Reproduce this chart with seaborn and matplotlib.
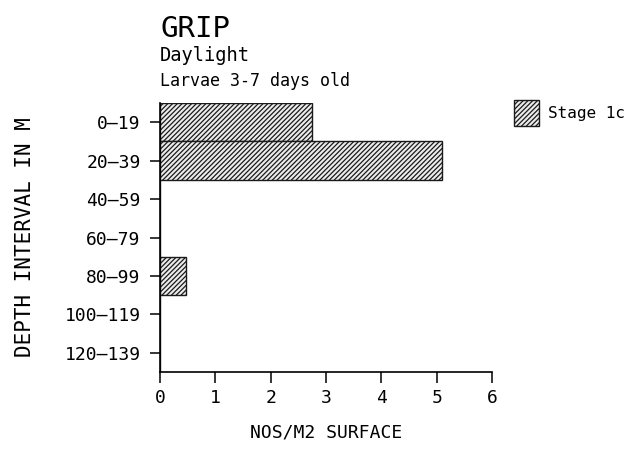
import matplotlib
matplotlib.use("Agg")
import matplotlib.pyplot as plt
from matplotlib.patches import Patch
import seaborn as sns
import pandas as pd

# Depth bins and larval densities (nos per m2 of surface)
depth_bins = ["0-19", "20-39", "40-59", "60-79", "80-99", "100-119", "120-139"]
stage_1c = [2.75, 5.10, 0.0, 0.0, 0.47, 0.0, 0.0]
x_ticks = [0, 1, 2, 3, 4, 5, 6]

title_main = "GRIP"
title_sub = "Daylight"
title_note = "Larvae 3-7 days old"
series_label = "Stage 1c"

df = pd.DataFrame({"depth": depth_bins, "density": stage_1c})

sns.set_style("white")
plt.rcParams["font.family"] = ["DejaVu Sans Mono", "DejaVu Sans"]
plt.rcParams["hatch.linewidth"] = 0.9
for key in ("text.color", "axes.labelcolor", "xtick.color", "ytick.color"):
    plt.rcParams[key] = "black"

fig = plt.figure(figsize=(6.33, 4.5), dpi=100)
ax = fig.add_axes([0.2528, 0.1733, 0.5245, 0.5978])

bar_style = dict(facecolor="#ececec", edgecolor="#1a1a1a", hatch="///////", linewidth=1.0)

sns.barplot(data=df, x="density", y="depth", orient="h", order=depth_bins,
            width=1.0, ax=ax, **bar_style)

ax.set_xlim(0, 6)
ax.set_ylim(6.5, -0.5)
ax.set_xticks(x_ticks)
ax.set_xticklabels([str(t) for t in x_ticks], fontsize=13)
ax.set_yticks(range(len(depth_bins)))
ax.set_yticklabels([d.replace("-", "\u2013") for d in depth_bins], fontsize=13)

ax.set_xlabel("NOS/M2 SURFACE", fontsize=13, labelpad=12)
ax.set_ylabel("DEPTH INTERVAL IN M", fontsize=15, labelpad=21)

for side in ("top", "right"):
    ax.spines[side].set_visible(False)
for side in ("left", "bottom"):
    ax.spines[side].set_color("black")
    ax.spines[side].set_linewidth(1.2)

ax.tick_params(axis="x", direction="out", length=8, width=1.1, pad=4, bottom=True)
ax.tick_params(axis="y", direction="out", length=7, width=1.1, pad=7, left=True)

# Title block, left-aligned with the plotting area
x0 = 0.2528
fig.text(x0, 1 - 37 / 450, title_main, fontsize=21, va="baseline", ha="left")
fig.text(x0, 1 - 61 / 450, title_sub, fontsize=13.5, va="baseline", ha="left")
fig.text(x0, 1 - 86 / 450, title_note, fontsize=12, va="baseline", ha="left")

handle = Patch(label=series_label, **bar_style)
fig.legend(handles=[handle], loc="upper left", bbox_to_anchor=(514 / 633, 1 - 100 / 450),
           frameon=False, fontsize=11.5, handlelength=1.55, handleheight=2.1,
           handletextpad=0.6, borderpad=0, borderaxespad=0)

fig.savefig("out.png", dpi=100, facecolor="white")
